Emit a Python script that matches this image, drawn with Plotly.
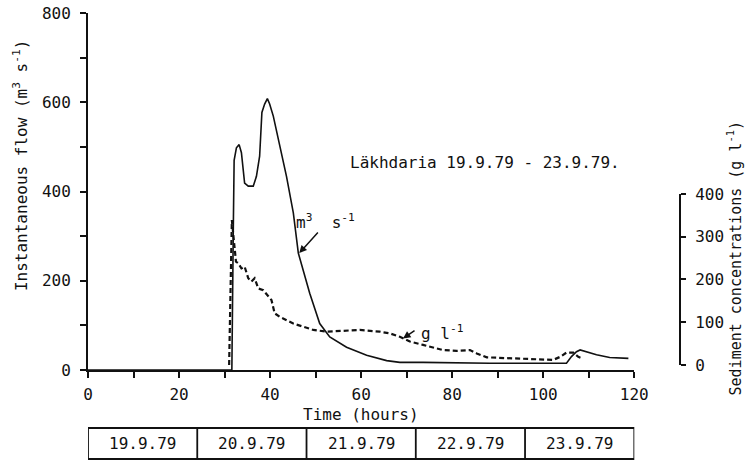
import plotly.graph_objects as go

# ---- data ----
flow_hours = [0, 31.6, 31.9, 32.1, 32.6, 33.2, 33.7, 34.4, 35.2, 36.3, 37.0, 37.7, 38.2,
              38.8, 39.4, 39.9, 40.7, 42.1, 43.6, 45.1, 46.2, 48.7, 50.9, 53.1, 56.8,
              61.2, 65.6, 68.5, 73.6, 88.3, 105.1, 106.2, 107.3, 108.1, 109.5, 111.7,
              114.6, 118.7]
flow_vals = [0, 0, 300, 470, 498, 505, 487, 419, 412, 412, 434, 479, 577,
             596, 608, 596, 569, 502, 434, 352, 262, 172, 104, 74, 51,
             33, 21, 17, 17, 15, 15, 30, 41, 45, 41, 34,
             28, 26]

sed_hours = [31.0, 31.6, 32.5, 33.0, 33.7, 34.4, 35.2, 35.9, 36.6, 37.4, 38.5, 40.3,
             41.0, 42.1, 45.1, 49.5, 52.4, 55.3, 59.7, 64.1, 66.3, 68.5, 69.2, 70.7,
             73.6, 78.0, 81.0, 83.9, 85.4, 87.6, 92.0, 102.2, 103.7, 105.1, 106.6,
             107.7, 108.4]
sed_vals = [0, 339, 242, 238, 226, 230, 203, 195, 203, 179, 175, 152,
            121, 113, 97, 82, 78, 80, 82, 78, 74, 66, 62, 55,
            47, 35, 33, 35, 27, 18, 16, 12, 19, 29, 29,
            19, 16]

dates = ["19.9.79", "20.9.79", "21.9.79", "22.9.79", "23.9.79"]
hours_per_day = 24

flow_ticks = [0, 200, 400, 600, 800]
sed_ticks = [0, 100, 200, 300, 400]
time_ticks = [0, 20, 40, 60, 80, 100, 120]

FONT = "DejaVu Sans Mono"
BLACK = "#111111"

fig = go.Figure()
fig.add_trace(go.Scatter(x=flow_hours, y=flow_vals, mode="lines",
                         line=dict(color=BLACK, width=1.6), xaxis="x", yaxis="y",
                         showlegend=False))
fig.add_trace(go.Scatter(x=sed_hours, y=sed_vals, mode="lines",
                         line=dict(color=BLACK, width=2.2, dash="5px,3px"),
                         xaxis="x", yaxis="y2", showlegend=False))

tickfont = dict(family=FONT, size=16, color=BLACK)

fig.update_layout(
    width=750, height=461,
    margin=dict(l=88, r=70, t=13, b=91, autoexpand=False),
    paper_bgcolor="white", plot_bgcolor="rgba(0,0,0,0)",
    font=dict(family=FONT, size=16, color=BLACK),
    xaxis=dict(range=[0, 120], domain=[0, 0.9228], tickvals=time_ticks,
               ticks="outside", ticklen=6, tickwidth=1.8, tickcolor=BLACK,
               minor=dict(dtick=10, ticks="outside", ticklen=6, tickwidth=1.8,
                          tickcolor=BLACK, showgrid=False),
               showline=True, linewidth=2, linecolor=BLACK, showgrid=False,
               zeroline=False, tickfont=tickfont, ticklabelstandoff=3,
               anchor="y", automargin=False),
    yaxis=dict(range=[0, 800], domain=[0, 1], tickvals=flow_ticks,
               ticks="outside", ticklen=6, tickwidth=1.8, tickcolor=BLACK,
               minor=dict(dtick=100, ticks="outside", ticklen=6, tickwidth=1.8,
                          tickcolor=BLACK, showgrid=False),
               showline=True, linewidth=2, linecolor=BLACK, showgrid=False,
               zeroline=False, tickfont=tickfont, ticklabelstandoff=6,
               anchor="x", automargin=False),
    yaxis2=dict(range=[0, 400], domain=[0.014, 0.493], tickvals=sed_ticks,
                anchor="free", position=1, side="right",
                ticks="outside", ticklen=5, tickwidth=1.8, tickcolor=BLACK,
                showline=True, linewidth=2, linecolor=BLACK, showgrid=False,
                zeroline=False, tickfont=tickfont, ticklabelstandoff=6,
                automargin=False),
)

ann = []
# axis titles
ann.append(dict(text="Instantaneous flow (m<sup>3</sup> s<sup>-1</sup>)",
                xref="paper", yref="paper", x=-0.1149, y=0.574, textangle=-90,
                showarrow=False, xanchor="center", yanchor="middle",
                font=dict(family=FONT, size=16, color=BLACK)))
ann.append(dict(text="Sediment concentrations (g l<sup>-1</sup>)",
                xref="paper", yref="paper", x=1.092, y=0.3137, textangle=-90,
                showarrow=False, xanchor="center", yanchor="middle",
                font=dict(family=FONT, size=15, color=BLACK)))
ann.append(dict(text="Time (hours)", xref="x", yref="paper", x=60, y=-0.124,
                showarrow=False, xanchor="center", yanchor="middle",
                font=dict(family=FONT, size=16, color=BLACK)))
# chart label
ann.append(dict(text="Läkhdaria 19.9.79 - 23.9.79.", xref="x", yref="y",
                x=57.1, y=464, showarrow=False, xanchor="left", yanchor="middle",
                font=dict(family=FONT, size=16, color=BLACK)))
# series labels with arrows
ann.append(dict(text="m<sup>3</sup>  s<sup>-1</sup>", xref="x", yref="y",
                x=52.2, y=332, showarrow=False, xanchor="center", yanchor="middle",
                font=dict(family=FONT, size=16, color=BLACK)))
ann.append(dict(text="", xref="x", yref="y", x=46.4, y=262, ax=20, ay=-22,
                showarrow=True, arrowhead=2, arrowsize=1, arrowwidth=1.5,
                arrowcolor=BLACK))
ann.append(dict(text="g l<sup>-1</sup>", xref="x", yref="y",
                x=77.7, y=84, showarrow=False, xanchor="center", yanchor="middle",
                font=dict(family=FONT, size=16, color=BLACK)))
ann.append(dict(text="", xref="x", yref="y2", x=69.2, y=62, ax=13, ay=-9,
                showarrow=True, arrowhead=2, arrowsize=1, arrowwidth=1.5,
                arrowcolor=BLACK))

# date table below the axis
box_top, box_bot = -0.1625, -0.2493
shapes = [dict(type="rect", xref="x", yref="paper", x0=0, x1=len(dates) * hours_per_day,
               y0=box_bot, y1=box_top, line=dict(color=BLACK, width=1.8))]
for i, d in enumerate(dates):
    if i > 0:
        shapes.append(dict(type="line", xref="x", yref="paper",
                           x0=i * hours_per_day, x1=i * hours_per_day,
                           y0=box_bot, y1=box_top, line=dict(color=BLACK, width=1.8)))
    ann.append(dict(text=d, xref="x", yref="paper", x=(i + 0.5) * hours_per_day,
                    y=(box_top + box_bot) / 2, showarrow=False,
                    xanchor="center", yanchor="middle",
                    font=dict(family=FONT, size=16, color=BLACK)))

fig.update_layout(annotations=ann, shapes=shapes)
fig.write_html("out.html",
               config={"displayModeBar": False},
               post_script="document.body.style.margin='0px';"
                           "document.body.style.overflow='hidden';")
